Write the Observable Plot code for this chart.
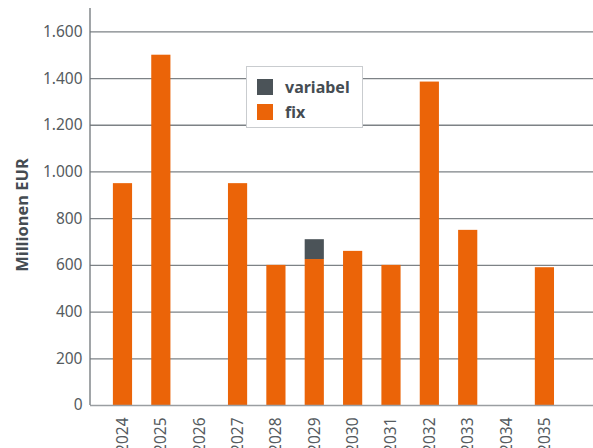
<!DOCTYPE html>
<html><head><meta charset="utf-8">
<script src="https://cdn.jsdelivr.net/npm/d3@7"></script>
<script src="https://cdn.jsdelivr.net/npm/@observablehq/plot@0.6"></script>
<style>
body{margin:0;background:#fff;font-family:"Source Sans Pro","Noto Sans",sans-serif}
#c{position:relative;width:593px;height:448px;overflow:hidden}
#legend{position:absolute;left:246px;top:66px;width:117px;height:62px;background:#fff;border:1px solid #c9cccf;box-sizing:border-box}
.li{position:absolute;left:10px;display:flex;align-items:center;font-weight:bold;font-size:16px;color:#454c52}
.sw{width:16px;height:16px;margin-right:12px}
</style>
</head><body><div id="c"></div>
<script>
const years = ["2024","2025","2026","2027","2028","2029","2030","2031","2032","2033","2034","2035"];
const fix = [950,1500,0,950,600,625,660,600,1385,750,0,590];
const variabel = [0,0,0,0,0,85,0,0,0,0,0,0];
const series = ["variabel","fix"];
const colors = ["#4b5358","#eb6408"];
const yTicks = [0,200,400,600,800,1000,1200,1400,1600];
const yLabel = "Millionen EUR";

const data = [];
years.forEach((y,i)=>{
  data.push({year:y, series:"fix", value:fix[i]});
  data.push({year:y, series:"variabel", value:variabel[i]});
});
const fmt = d3.formatLocale({decimal:",", thousands:".", grouping:[3], currency:["","€"]}).format(",d");

const chart = Plot.plot({
  width:593, height:448,
  marginLeft:90, marginRight:0, marginTop:8, marginBottom:43,
  style:{fontFamily:'"Source Sans Pro","Noto Sans",sans-serif', fontSize:"15px", color:"#555b60", background:"transparent"},
  x:{domain:years, range:[103.3,563.6], paddingInner:0.5, paddingOuter:0.25, round:false},
  y:{domain:[0,1700]},
  color:{domain:series, range:colors},
  marks:[
    Plot.ruleY(yTicks.filter(d=>d>0), {stroke:"#7d8286", strokeWidth:1.3}),
    Plot.barY(data, {x:"year", y:"value", fill:"series", order:["fix","variabel"]}),
    Plot.ruleY([0], {stroke:"#9a9ea2", strokeWidth:1.5}),
    Plot.axisY({ticks:yTicks, tickFormat:fmt, tickSize:0, tickPadding:8, label:null, fontSize:15.5}),
    Plot.axisX({tickRotate:-90, tickSize:0, tickPadding:12, label:null, fontSize:15.5})
  ]
});
const svg = d3.select(chart);
svg.append("line").attr("x1",90).attr("x2",90).attr("y1",8).attr("y2",405).attr("stroke","#6f7579").attr("stroke-width",1.3);
svg.append("text").attr("transform","translate(28,215) rotate(-90)")
  .attr("text-anchor","middle").attr("font-weight","bold").attr("font-size",16.5)
  .attr("fill","#454c52").text(yLabel);
document.getElementById("c").appendChild(chart);
const lg = document.createElement("div");
lg.id="legend";
lg.innerHTML = series.map((s,i)=>`<div class="li" style="top:${9+i*25}px"><div class="sw" style="background:${colors[i]}"></div>${s}</div>`).join("");
document.getElementById("c").appendChild(lg);
</script>
</body></html>
